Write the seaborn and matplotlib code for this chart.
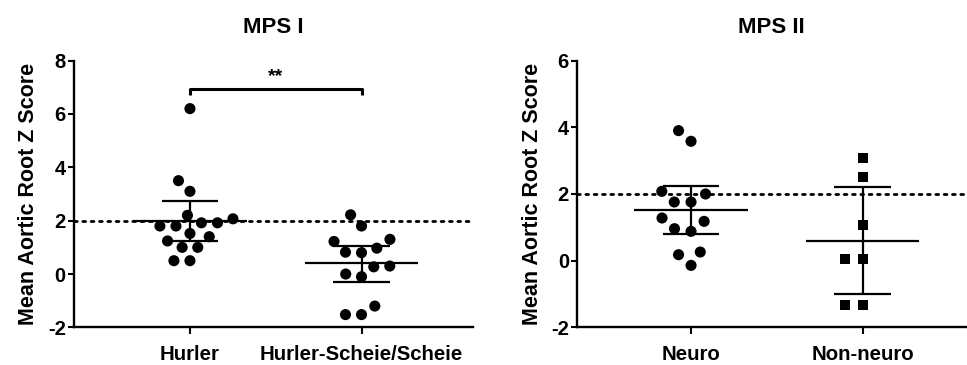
import numpy as np
import pandas as pd
import matplotlib
matplotlib.use("Agg")
import matplotlib.pyplot as plt
import seaborn as sns

sns.set_theme(style="ticks")
plt.rcParams['font.family'] = ['Liberation Sans', 'DejaVu Sans']
plt.rcParams['font.weight'] = 'bold'
plt.rcParams['text.color'] = 'black'
plt.rcParams['axes.labelcolor'] = 'black'
plt.rcParams['xtick.color'] = 'black'
plt.rcParams['ytick.color'] = 'black'
plt.rcParams['axes.unicode_minus'] = False

# ---------------- data ----------------
mps1_categories = ["Hurler", "Hurler-Scheie/Scheie"]
hurler = [6.2, 3.5, 3.1, 2.07, 2.2, 1.92, 1.92, 1.8, 1.8, 1.4, 1.52, 1.24, 1.0, 1.0, 0.5, 0.5]
hurler_scheie = [2.22, 1.8, 1.3, 1.22, 0.97, 0.82, 0.8, 0.3, 0.27, 0.0, -0.1, -1.2, -1.52, -1.52]
mps1_center = [1.97, 0.40]
mps1_upper = [2.72, 1.05]
mps1_lower = [1.25, -0.30]

mps2_categories = ["Neuro", "Non-neuro"]
neuro = [3.9, 3.58, 2.0, 2.08, 1.76, 1.76, 1.28, 1.18, 0.96, 0.88, 0.26, 0.18, -0.14]
non_neuro = [3.08, 2.5, 1.08, 0.06, 0.06, -1.34, -1.34]
mps2_center = [1.52, 0.59]
mps2_upper = [2.24, 2.20]
mps2_lower = [0.80, -1.00]

threshold = 2.0
significance = "**"
y_label = "Mean Aortic Root Z Score"
titles = ["MPS I", "MPS II"]
mps1_yticks = [-2, 0, 2, 4, 6, 8]
mps2_yticks = [-2, 0, 2, 4, 6]

df1 = pd.DataFrame({"group": [mps1_categories[0]] * len(hurler) + [mps1_categories[1]] * len(hurler_scheie),
                    "z": hurler + hurler_scheie})
df2 = pd.DataFrame({"group": [mps2_categories[0]] * len(neuro) + [mps2_categories[1]] * len(non_neuro),
                    "z": neuro + non_neuro})

fig = plt.figure(figsize=(9.67, 3.65), dpi=100)
ax1 = fig.add_axes([0.0765, 0.103, 0.4125, 0.731])
ax2 = fig.add_axes([0.597, 0.103, 0.402, 0.731])

TICK_FS = 14.5
XLAB_FS = 14.7
YLAB_FS = 15.5
LW = 1.6


def summary(ax, center, lower, upper):
    xs = np.arange(len(center))
    ax.hlines(center, xs - 0.33, xs + 0.33, color="black", lw=LW, zorder=4)
    ax.vlines(xs, lower, upper, color="black", lw=LW, zorder=4)
    ax.hlines(lower, xs - 0.165, xs + 0.165, color="black", lw=LW, zorder=4)
    ax.hlines(upper, xs - 0.165, xs + 0.165, color="black", lw=LW, zorder=4)


def style(ax, yticks, title, xlim):
    ax.axhline(threshold, color="black", lw=2, ls=(0, (1, 2)), dash_capstyle="round", zorder=1)
    ax.set_ylim(yticks[0], yticks[-1])
    ax.set_yticks(yticks)
    ax.set_xlim(*xlim)
    ax.set_xlabel("")
    ax.set_ylabel(y_label, fontsize=YLAB_FS, fontweight="bold", labelpad=6)
    ax.set_title(title, fontsize=16, fontweight="bold", pad=20)
    for s in ["top", "right"]:
        ax.spines[s].set_visible(False)
    for s in ["left", "bottom"]:
        ax.spines[s].set_linewidth(1.7)
        ax.spines[s].set_color("black")
    ax.tick_params(axis="both", direction="out", length=4, width=1.5, colors="black",
                   labelsize=TICK_FS, pad=2)
    ax.tick_params(axis="x", length=5, pad=8, labelsize=XLAB_FS)
    for lab in ax.get_xticklabels() + ax.get_yticklabels():
        lab.set_fontweight("bold")
    ax.set_facecolor("white")


# MPS I
sns.swarmplot(data=df1, x="group", y="z", order=mps1_categories, ax=ax1, color="black",
              size=8.0, linewidth=3.0, edgecolor="none", zorder=3)
summary(ax1, mps1_center, mps1_lower, mps1_upper)
style(ax1, mps1_yticks, titles[0], (-0.676, 1.649))
bar_y, tick_y = 6.95, 6.72
ax1.plot([0, 0, 1, 1], [tick_y, bar_y, bar_y, tick_y], color="black", lw=2.2,
         solid_joinstyle="round", solid_capstyle="butt")
ax1.text(0.5, bar_y + 0.12, significance, ha="center", va="bottom", fontsize=14, fontweight="bold")

# MPS II
sns.swarmplot(data=df2[df2.group == mps2_categories[0]], x="group", y="z", order=mps2_categories,
              ax=ax2, color="black", size=8.0, linewidth=3.5, edgecolor="none", zorder=3)
sns.swarmplot(data=df2[df2.group == mps2_categories[1]], x="group", y="z", order=mps2_categories,
              ax=ax2, color="black", marker="s", size=7.3, linewidth=4.5, edgecolor="none", zorder=3)
summary(ax2, mps2_center, mps2_lower, mps2_upper)
style(ax2, mps2_yticks, titles[1], (-0.663, 1.603))

fig.savefig("out.png", dpi=100, facecolor="white")
